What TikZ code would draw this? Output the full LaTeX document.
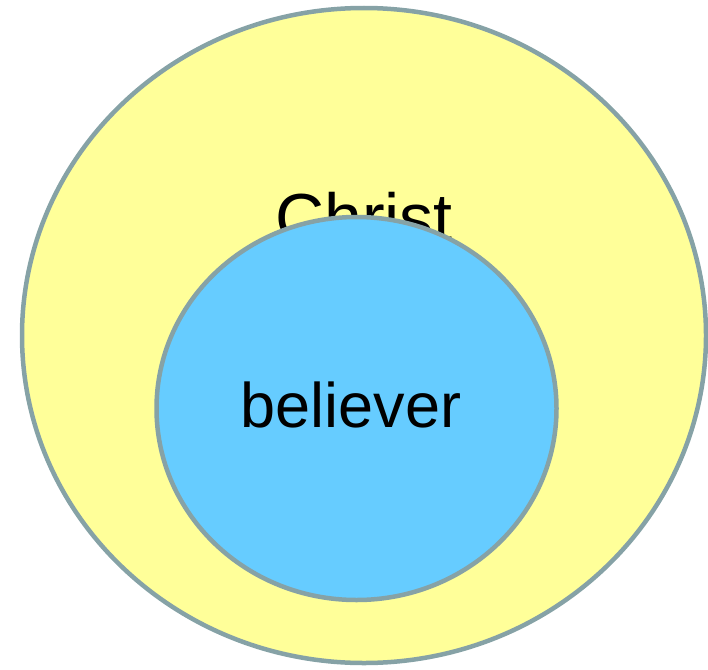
\documentclass[tikz,border=0pt]{standalone}
\usepackage{fontspec}
\setmainfont{Liberation Sans}
\definecolor{rim}{HTML}{86A2A6}
\definecolor{outerfill}{HTML}{FFFF99}
\definecolor{innerfill}{HTML}{66CCFF}
\tikzset{
  ring/.style={draw=rim, line width=4.5pt},
  lbl/.style={anchor=base, inner sep=0pt}
}
\begin{document}
\begin{tikzpicture}[x=1pt,y=-1pt]
\useasboundingbox (0,0) rectangle (708,669);
\path[ring, fill=outerfill] (364,335.5) ellipse [x radius=342, y radius=327.5];
\node[lbl, font=\fontsize{68}{68}\selectfont] (christ) at (364,241) {Christ};
\path[ring, fill=innerfill] (356.5,408.5) ellipse [x radius=200, y radius=191.5];
\node[lbl, font=\fontsize{63}{63}\selectfont] (believer) at (351,427) {believer};
\end{tikzpicture}
\end{document}
